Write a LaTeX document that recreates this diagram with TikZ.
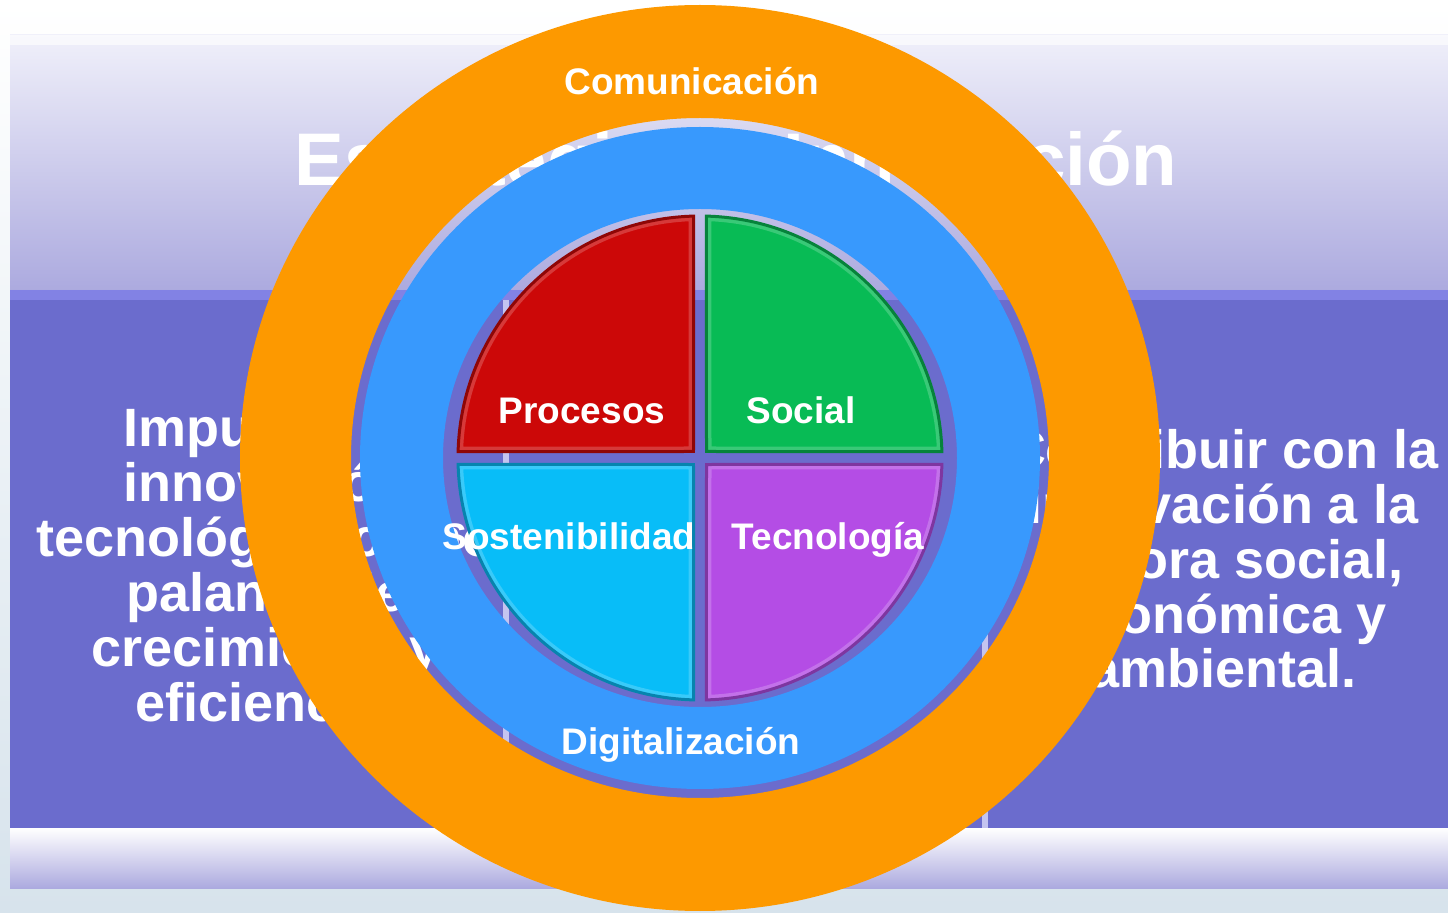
\documentclass[tikz,border=0pt]{standalone}
\usepackage{fontspec}
\setmainfont{Liberation Sans}
\definecolor{pagebg}{RGB}{215,227,236}
\definecolor{bandtop}{RGB}{240,240,250}
\definecolor{bandbot}{RGB}{172,170,223}
\definecolor{boxpurple}{RGB}{107,108,205}
\definecolor{boxedge}{RGB}{130,130,228}
\definecolor{colline}{RGB}{196,196,240}
\definecolor{ringorange}{RGB}{253,153,0}
\definecolor{ringblue}{RGB}{56,153,253}
\definecolor{procred}{RGB}{204,8,8}
\definecolor{socgreen}{RGB}{8,187,85}
\definecolor{sostcyan}{RGB}{8,189,248}
\definecolor{tecviolet}{RGB}{180,77,229}
\begin{document}
\begin{tikzpicture}[x=0.5pt,y=0.5pt,
    ringtext/.style={text=white,inner sep=0pt,anchor=base,font=\bfseries\fontsize{18.5pt}{22pt}\selectfont},
    boxtext/.style={text=white,inner sep=0pt,anchor=base,align=center,font=\bfseries\fontsize{27pt}{27.5pt}\selectfont}]
\useasboundingbox (0,0) rectangle (1448,912);
% fondo de la diapositiva
\shade[top color=white,bottom color=pagebg] (0,0) rectangle (1448,912);
\shade[top color=bandtop,bottom color=bandbot] (10,622) rectangle (1448,877);
\fill[white,opacity=0.6] (10,867) rectangle (1448,877);
\fill[boxpurple] (10,84) rectangle (1448,622);
\fill[boxedge] (10,612) rectangle (1448,622);
\shade[top color=white,bottom color=bandbot] (10,24) rectangle (1448,84);
\draw[colline,line width=3] (506,84) -- (506,612);
\draw[colline,line width=3] (985,84) -- (985,612);
\node[text=white,inner sep=0pt,anchor=base,font=\bfseries\fontsize{37.3pt}{40pt}\selectfont] (titulo) at (736,726) {Estrategia de Innovación};
% anchor base = ultima linea
\node[boxtext] (izquierda) at (266,191) {Impulsar la\\innovación\\tecnológica como\\palanca de\\crecimiento y\\eficiencia.};
\node[boxtext] (derecha) at (1223,224) {Contribuir con la\\innovación a la\\mejora social,\\económica y\\ambiental.};
% anillos y sectores
\begin{scope}[shift={(700,454)}]
\fill[ringorange,even odd rule] (0,0) ellipse[x radius=460,y radius=453] (0,0) ellipse[x radius=349,y radius=340];
\fill[ringblue,even odd rule] (0,0) ellipse[x radius=340,y radius=331] (0,0) ellipse[x radius=257,y radius=249];
\foreach \a/\c in {90/procred,0/socgreen,180/sostcyan,270/tecviolet}{
  \begin{scope}
    \clip (\a+45:9.2) -- (\a+1.5:242) arc[start angle=\a+1.5,end angle=\a+88.5,radius=242] -- cycle;
    \fill[\c] (\a+45:9.2) -- (\a+1.5:242) arc[start angle=\a+1.5,end angle=\a+88.5,radius=242] -- cycle;
    \draw[\c!80!white,line width=5] (\a+45:9.2) -- (\a+1.5:242) arc[start angle=\a+1.5,end angle=\a+88.5,radius=242] -- cycle;
  \end{scope}
  \draw[\c!70!black,line width=1.5] (\a+45:9.2) -- (\a+1.5:242) arc[start angle=\a+1.5,end angle=\a+88.5,radius=242] -- cycle;
}
\end{scope}
\node[ringtext] (comunicacion) at (692,817) {Comunicación};
\node[ringtext] (digitalizacion) at (681,157) {Digitalización};
\node[ringtext] (procesos) at (582,488) {Procesos};
\node[ringtext] (social) at (801,488) {Social};
\node[ringtext] (sostenibilidad) at (569,362) {Sostenibilidad};
\node[ringtext] (tecnologia) at (828,362) {Tecnología};
\end{tikzpicture}
\end{document}
